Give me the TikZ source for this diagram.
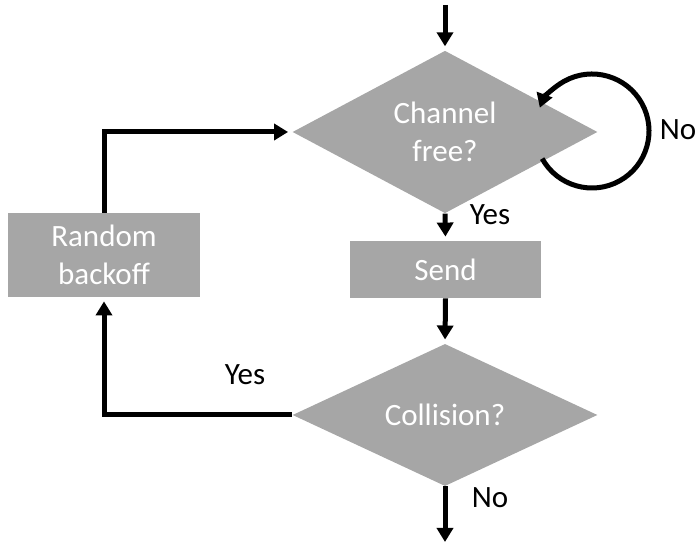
\documentclass[tikz,border=0pt]{standalone}
\usepackage{fontspec}
\setmainfont{Carlito}
\usetikzlibrary{shapes.geometric,arrows.meta}
\definecolor{boxgray}{HTML}{A6A6A6}
\tikzset{
  decision/.style={diamond, fill=boxgray, text=white, minimum width=152.5pt, minimum height=65pt, inner sep=0pt, align=center},
  block/.style={rectangle, fill=boxgray, text=white, inner sep=0pt, align=center},
  flow/.style={line width=2.5pt, -{Triangle[width=8pt,length=7pt]}, shorten >=2pt},
}
\begin{document}
\begin{tikzpicture}[x=0.5pt,y=0.5pt,font=\fontsize{15.5}{19}\selectfont]
\useasboundingbox (0,0) rectangle (696,544);
\node[decision] (chan) at (445,412) {Channel\\free?};
\node[block, minimum width=95.5pt, minimum height=28.5pt] (send) at (445.5,274.5) {Send};
\node[decision] (coll) at (445,129) {Collision?};
\node[block, minimum width=96pt, minimum height=42pt] (back) at (104,289) {Random\\backoff};
\coordinate (in) at (445,539);
\coordinate (out) at (445,-2);
\coordinate (loop) at (592,413);
\draw[flow] (in) -- (chan.north);
\draw[flow] (chan.south) -- (send.north);
\draw[flow] (send.south) -- (coll.north);
\draw[flow] (coll.south) -- (out);
\draw[flow] ([shift={(209:28.5pt)}]loop) arc[start angle=209, end angle=520, radius=28.5pt];
\draw[flow] (coll.west) -| (back.south);
\draw[flow] (back.north) |- (chan.west);
\node (noloop) at (678,414) {No};
\node (yessend) at (490,329) {Yes};
\node (noout) at (490,46) {No};
\node (yesback) at (245,169) {Yes};
% \draw[help lines] (0,0) grid[step=50] (696,544);
\end{tikzpicture}
\end{document}
